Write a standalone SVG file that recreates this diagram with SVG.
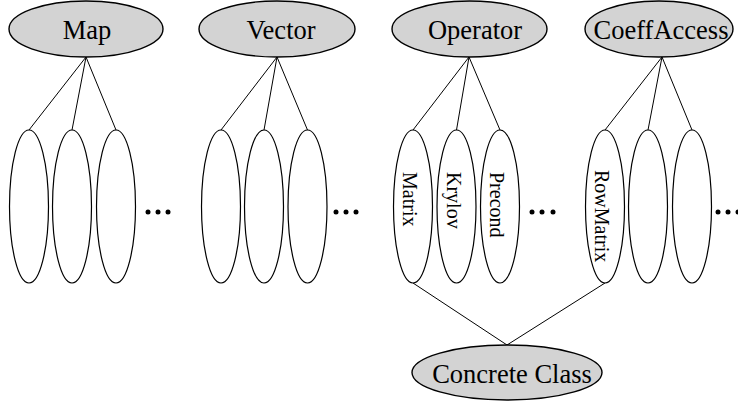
<svg xmlns="http://www.w3.org/2000/svg" width="738" height="402" viewBox="0 0 738 402">
<style>
.top{fill:#d3d3d3;stroke:#000;stroke-width:1.4}
.child{fill:#fff;stroke:#000;stroke-width:1.2}
.lbl{font-family:"Liberation Serif","Times New Roman",serif;font-size:26.5px;text-anchor:middle;fill:#000}
.rlbl{font-family:"Liberation Serif","Times New Roman",serif;font-size:20px;fill:#000}
.conn line{stroke:#000;stroke-width:1}
.dot{fill:#000}
</style>
<rect width="738" height="402" fill="#fff"/>
<g class="conn" id="connectors">
<line x1="86" y1="57" x2="29" y2="130"/>
<line x1="86" y1="57" x2="72" y2="130"/>
<line x1="86" y1="57" x2="116" y2="130"/>
<line x1="277" y1="57" x2="221" y2="130"/>
<line x1="277" y1="57" x2="264" y2="130"/>
<line x1="277" y1="57" x2="307.5" y2="130"/>
<line x1="469" y1="57" x2="413" y2="130"/>
<line x1="469" y1="57" x2="456.5" y2="130"/>
<line x1="469" y1="57" x2="500" y2="130"/>
<line x1="662" y1="57" x2="605" y2="130"/>
<line x1="662" y1="57" x2="648" y2="130"/>
<line x1="662" y1="57" x2="692" y2="130"/>
<line x1="413" y1="283" x2="507" y2="345"/>
<line x1="605" y1="283" x2="507" y2="345"/>
</g>
<g id="map"><ellipse class="top" cx="86" cy="29" rx="77" ry="28"/><text class="lbl" x="87" y="38.5">Map</text></g>
<g id="vector"><ellipse class="top" cx="277" cy="29" rx="78" ry="28"/><text class="lbl" x="281" y="38.5">Vector</text></g>
<g id="operator"><ellipse class="top" cx="469.5" cy="29" rx="77.5" ry="28"/><text class="lbl" x="475" y="38.5">Operator</text></g>
<g id="coeffaccess"><ellipse class="top" cx="659" cy="29" rx="74" ry="28"/><text class="lbl" x="661" y="38.5">CoeffAccess</text></g>
<g id="map-children">
<ellipse class="child" cx="29" cy="206.5" rx="19.5" ry="76.5"/>
<ellipse class="child" cx="72" cy="206.5" rx="19.5" ry="76.5"/>
<ellipse class="child" cx="116" cy="206.5" rx="19.5" ry="76.5"/>
</g>
<g id="map-more"><circle class="dot" cx="148" cy="212" r="2.5"/><circle class="dot" cx="158" cy="212" r="2.5"/><circle class="dot" cx="168" cy="212" r="2.5"/></g>
<g id="vector-children">
<ellipse class="child" cx="221" cy="206.5" rx="19.5" ry="76.5"/>
<ellipse class="child" cx="264" cy="206.5" rx="19.5" ry="76.5"/>
<ellipse class="child" cx="307.5" cy="206.5" rx="19.5" ry="76.5"/>
</g>
<g id="vector-more"><circle class="dot" cx="336" cy="212" r="2.5"/><circle class="dot" cx="346" cy="212" r="2.5"/><circle class="dot" cx="356" cy="212" r="2.5"/></g>
<g id="matrix"><ellipse class="child" cx="413" cy="206.5" rx="19.5" ry="76.5"/><text class="rlbl" transform="translate(403,172) rotate(90)">Matrix</text></g>
<g id="krylov"><ellipse class="child" cx="456.5" cy="206.5" rx="19.5" ry="76.5"/><text class="rlbl" transform="translate(446.5,172) rotate(90)">Krylov</text></g>
<g id="precond"><ellipse class="child" cx="500" cy="206.5" rx="19.5" ry="76.5"/><text class="rlbl" transform="translate(490,172) rotate(90)">Precond</text></g>
<g id="operator-more"><circle class="dot" cx="532" cy="212" r="2.5"/><circle class="dot" cx="542" cy="212" r="2.5"/><circle class="dot" cx="553" cy="212" r="2.5"/></g>
<g id="rowmatrix"><ellipse class="child" cx="605" cy="206.5" rx="19.5" ry="76.5"/><text class="rlbl" transform="translate(595,170) rotate(90)">RowMatrix</text></g>
<g id="coeff-children">
<ellipse class="child" cx="648" cy="206.5" rx="19.5" ry="76.5"/>
<ellipse class="child" cx="692" cy="206.5" rx="19.5" ry="76.5"/>
</g>
<g id="coeff-more"><circle class="dot" cx="718" cy="212" r="2.5"/><circle class="dot" cx="728" cy="212" r="2.5"/><circle class="dot" cx="738" cy="212" r="2.5"/></g>
<g id="concrete"><ellipse class="top" cx="507" cy="372.5" rx="95" ry="27.5"/><text class="lbl" x="512" y="382.5">Concrete Class</text></g>
</svg>
